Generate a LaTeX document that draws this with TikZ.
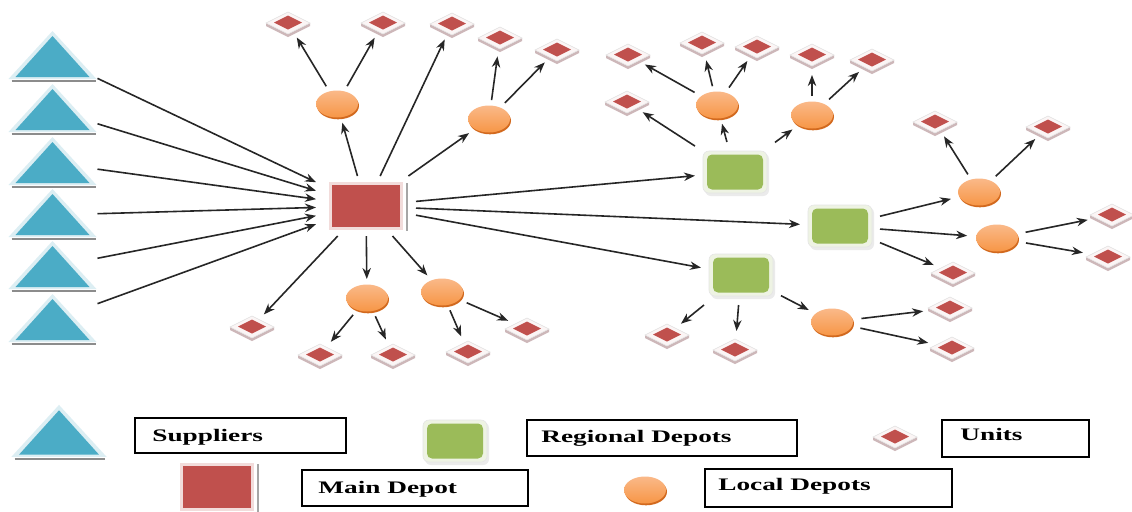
\documentclass[tikz,border=0pt]{standalone}
\usepackage{fontspec}
\setmainfont{Liberation Serif}
\usetikzlibrary{arrows.meta,shapes.geometric}

\definecolor{supblue}{HTML}{4BACC6}
\definecolor{supglow}{HTML}{DCEEF3}
\definecolor{hubred}{HTML}{C0504D}
\definecolor{hubglow}{HTML}{F2DCDB}
\definecolor{regreen}{HTML}{9BBB59}
\definecolor{regglow}{HTML}{EEF3E3}
\definecolor{locorange}{HTML}{F79646}
\definecolor{loclight}{HTML}{FAB989}
\definecolor{locdark}{HTML}{D2691E}
\definecolor{unitedge}{HTML}{CDB7B9}
\definecolor{unitface}{HTML}{FBF5F5}

\tikzset{
  arr/.style={draw=black!85, line width=0.8pt, -{Stealth[length=5.5pt,width=4.2pt]}},
  suphub/.style={rectangle, minimum width=45pt, minimum height=25pt, inner sep=0pt, outer sep=0pt},
  mainhub/.style={rectangle, minimum width=50pt, minimum height=30pt, inner sep=0pt, outer sep=0pt},
  reghub/.style={rectangle, minimum width=40pt, minimum height=30pt, inner sep=0pt, outer sep=0pt},
  lochub/.style={ellipse, minimum width=30pt, minimum height=19pt, inner sep=0pt, outer sep=0pt},
  unithub/.style={diamond, minimum width=32pt, minimum height=20pt, inner sep=0pt, outer sep=0pt},
  legbox/.style={draw=black, line width=0.65pt, rectangle, inner sep=0pt},
  legtext/.style={anchor=base west, inner sep=0pt, font=\fontsize{8.8pt}{10pt}\selectfont\bfseries},
}

% supplier: blue triangle with pale rim and grey base line
\newcommand\Supplier[3][1]{%
  \begin{scope}[shift={#3}, scale=#1]
    \draw[black!45, line width=1.2pt] (-41,24) -- (43,24);
    \fill[supglow] (0,-26) -- (-44,22) -- (44,22) -- cycle;
    \fill[supblue] (0,-21) -- (-37,20) -- (37,20) -- cycle;
  \end{scope}
  \node[suphub] (#2) at #3 {};
}
% main depot: red block with pale rim and side shadow
\newcommand\MainDepot[2]{%
  \begin{scope}[shift={#2}]
    \fill[black!35] (40,-23) rectangle (42,25);
    \fill[hubglow] (-37,-24) rectangle (37,24);
    \fill[hubred] (-34,-21) rectangle (34,21);
  \end{scope}
  \node[mainhub] (#1) at #2 {};
}
% regional depot: rounded green tile
\newcommand\RegDepot[2]{%
  \begin{scope}[shift={#2}]
    \fill[black!8, rounded corners=3pt] (-30,-19) rectangle (34,24);
    \filldraw[fill=regglow, draw=black!10, line width=0.3pt, rounded corners=3pt] (-32,-21) rectangle (32,21);
    \fill[regreen, rounded corners=2.5pt] (-28,-17.5) rectangle (28,17.5);
  \end{scope}
  \node[reghub] (#1) at #2 {};
}
% local depot: orange disc
\newcommand\LocDepot[2]{%
  \begin{scope}[shift={#2}]
    \fill[locdark] (1,1.8) ellipse [x radius=21, y radius=13.5];
    \shade[top color=loclight, bottom color=locorange] (0,0) ellipse [x radius=21, y radius=13.5];
  \end{scope}
  \node[lochub] (#1) at #2 {};
}
% unit: flat tile with red centre
\newcommand\UnitTile[2]{%
  \begin{scope}[shift={#2}]
    \fill[unitedge] (-22,0) -- (0,11) -- (22,0) -- (22,3) -- (0,14) -- (-22,3) -- cycle;
    \filldraw[fill=unitface, draw=black!12, line width=0.3pt] (-22,0) -- (0,-11) -- (22,0) -- (0,11) -- cycle;
    \fill[hubred] (-14,-0.5) -- (0,-7.5) -- (14,-0.5) -- (0,6.5) -- cycle;
  \end{scope}
  \node[unithub] (#1) at #2 {};
}

\begin{document}
\begin{tikzpicture}[x=0.5pt, y=-0.5pt]
\fill[white] (0,0) rectangle (1132,511);
\useasboundingbox (0,0) rectangle (1132,511);

% suppliers
\Supplier{s1}{(52.5,57)}
\Supplier{s2}{(52.5,110)}
\Supplier{s3}{(52.5,163)}
\Supplier{s4}{(52.5,215)}
\Supplier{s5}{(52.5,267)}
\Supplier{s6}{(52.5,320)}

% depots
\MainDepot{m}{(366,206)}
\RegDepot{r1}{(735,172)}
\RegDepot{r2}{(840,226)}
\RegDepot{r3}{(741,275)}
\LocDepot{l1}{(337,104)}
\LocDepot{l2}{(489,119)}
\LocDepot{l3}{(367,298)}
\LocDepot{l4}{(442,292)}
\LocDepot{l5}{(717,105)}
\LocDepot{l6}{(812,115)}
\LocDepot{l7}{(979,192)}
\LocDepot{l8}{(997,238)}
\LocDepot{l9}{(832,322)}

% units
\UnitTile{ua}{(288,23)}
\UnitTile{ub}{(383,23)}
\UnitTile{uc}{(452,24)}
\UnitTile{ud}{(500,38)}
\UnitTile{ue}{(557,50)}
\UnitTile{uf}{(252,327)}
\UnitTile{ug}{(320,355)}
\UnitTile{uh}{(393,355)}
\UnitTile{ui}{(468,352)}
\UnitTile{uj}{(527,329)}
\UnitTile{uk}{(628,55)}
\UnitTile{ul}{(702,43)}
\UnitTile{um}{(757,47)}
\UnitTile{un}{(627,102)}
\UnitTile{uo}{(812,55)}
\UnitTile{up}{(872,60)}
\UnitTile{uq}{(935,122)}
\UnitTile{ur}{(1048,127)}
\UnitTile{us}{(1112,215)}
\UnitTile{ut}{(1108,257)}
\UnitTile{uu}{(953,273)}
\UnitTile{uv}{(667,335)}
\UnitTile{uw}{(735,350)}
\UnitTile{ux}{(950,308)}
\UnitTile{uy}{(952,348)}

% flows
\foreach \s in {s1,s2,s3,s4,s5,s6} \draw[arr] (\s) -- (m);
\foreach \t in {l1,uc,l2,r1,r2,r3,uf,l3,l4} \draw[arr] (m) -- (\t);
\draw[arr] (l1) -- (ua);  \draw[arr] (l1) -- (ub);
\draw[arr] (l2) -- (ud);  \draw[arr] (l2) -- (ue);
\draw[arr] (l3) -- (ug);  \draw[arr] (l3) -- (uh);
\draw[arr] (l4) -- (ui);  \draw[arr] (l4) -- (uj);
\draw[arr] (r1) -- (un);  \draw[arr] (r1) -- (l5);  \draw[arr] (r1) -- (l6);
\draw[arr] (l5) -- (uk);  \draw[arr] (l5) -- (ul);  \draw[arr] (l5) -- (um);
\draw[arr] (l6) -- (uo);  \draw[arr] (l6) -- (up);
\draw[arr] (r2) -- (l7);  \draw[arr] (r2) -- (l8);  \draw[arr] (r2) -- (uu);
\draw[arr] (l7) -- (uq);  \draw[arr] (l7) -- (ur);
\draw[arr] (l8) -- (us);  \draw[arr] (l8) -- (ut);
\draw[arr] (r3) -- (uv);  \draw[arr] (r3) -- (uw);  \draw[arr] (r3) -- (l9);
\draw[arr] (l9) -- (ux);  \draw[arr] (l9) -- (uy);

% legend
\Supplier[1.08]{lsup}{(59,433)}
\node[legbox, minimum width=105.5pt, minimum height=17.5pt] (bsup) at (240.5,435.5) {};
\node[legtext] (tsup) at (152,441) {\scalebox{1.55}[1]{Suppliers}};

\RegDepot{lreg}{(455,441)}
\node[legbox, minimum width=135pt, minimum height=18pt] (breg) at (662,438) {};
\node[legtext] (treg) at (541,442) {\scalebox{1.55}[1]{Regional Depots}};

\UnitTile{lunit}{(895,437)}
\node[legbox, minimum width=73.5pt, minimum height=18.5pt] (bunit) at (1015.5,438.5) {};
\node[legtext] (tunit) at (960,440) {\scalebox{1.55}[1]{Units}};

\MainDepot{lmain}{(216.5,487)}
\node[legbox, minimum width=113pt, minimum height=18pt] (bmain) at (415,488) {};
\node[legtext] (tmain) at (318,493) {\scalebox{1.55}[1]{Main Depot}};

\LocDepot{lloc}{(645,490)}
\node[legbox, minimum width=123.5pt, minimum height=19pt] (bloc) at (828.5,488) {};
\node[legtext] (tloc) at (718,490) {\scalebox{1.55}[1]{Local Depots}};
\end{tikzpicture}
\end{document}
